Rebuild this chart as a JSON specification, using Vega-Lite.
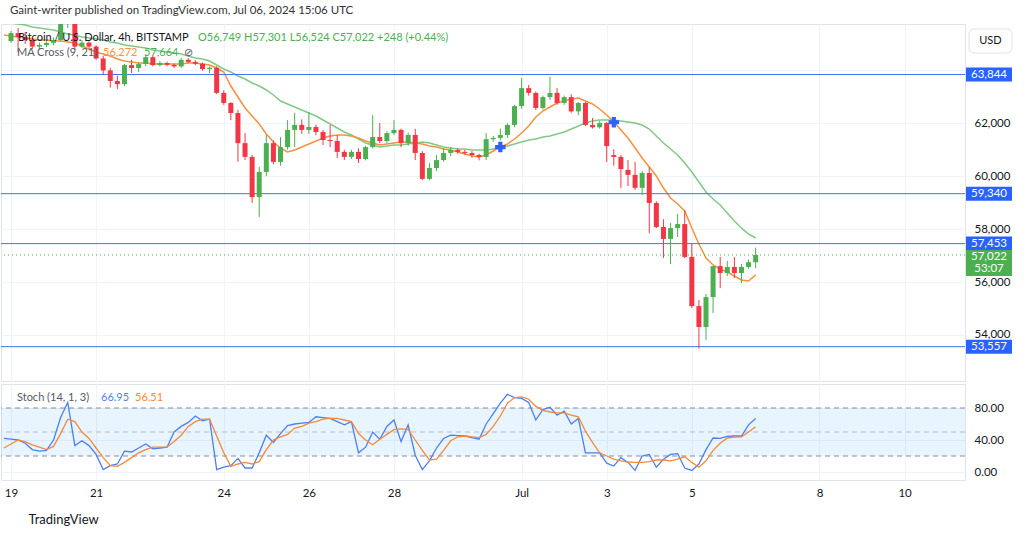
{
"$schema": "https://vega.github.io/schema/vega-lite/v6.json",
"padding": {"left": 0, "top": 5, "right": 0, "bottom": 0},
"background": "#ffffff",
"title": {"text": "Gaint-writer published on TradingView.com, Jul 06, 2024 15:06 UTC", "anchor": "start", "fontSize": 11.5, "fontWeight": "normal", "color": "#333333", "offset": 7, "dx": 10},
"spacing": 1,
"config": {
  "font": "Lato",
  "view": {"stroke": "#e0e3eb"},
  "scale": {"continuousPadding": 0},
  "axis": {"labelFontSize": 11.5, "labelColor": "#131722", "gridColor": "#f0f3fa", "domain": false, "ticks": false, "title": null}
},
"datasets": {
  "bars": [
{"t":"2024-06-18T20:00:00Z","o":null,"h":null,"l":null,"c":null,"m9":65338,"m21":65829,"k":42,"d":30},
{"t":"2024-06-19T00:00:00Z","o":65110,"h":65490,"l":65050,"c":65410,"m9":65300,"m21":65791,"k":41,"d":35},
{"t":"2024-06-19T04:00:00Z","o":65410,"h":65600,"l":64680,"c":65260,"m9":65262,"m21":65753,"k":40,"d":40},
{"t":"2024-06-19T08:00:00Z","o":65260,"h":65450,"l":65000,"c":65150,"m9":65224,"m21":65716,"k":36,"d":38},
{"t":"2024-06-19T12:00:00Z","o":65150,"h":65200,"l":64800,"c":64900,"m9":65186,"m21":65640,"k":28,"d":34},
{"t":"2024-06-19T16:00:00Z","o":64900,"h":65050,"l":64800,"c":64960,"m9":65149,"m21":65602,"k":26,"d":31},
{"t":"2024-06-19T20:00:00Z","o":64960,"h":65100,"l":64880,"c":65040,"m9":65149,"m21":65565,"k":27,"d":28},
{"t":"2024-06-20T00:00:00Z","o":65040,"h":65250,"l":64950,"c":65150,"m9":65111,"m21":65527,"k":40,"d":32},
{"t":"2024-06-20T04:00:00Z","o":65150,"h":66400,"l":65100,"c":65950,"m9":65111,"m21":65451,"k":68,"d":48},
{"t":"2024-06-20T08:00:00Z","o":65950,"h":66480,"l":65600,"c":66150,"m9":65073,"m21":65376,"k":87,"d":66},
{"t":"2024-06-20T12:00:00Z","o":66150,"h":66200,"l":64770,"c":64900,"m9":65035,"m21":65338,"k":33,"d":63},
{"t":"2024-06-20T16:00:00Z","o":64900,"h":65150,"l":64850,"c":65050,"m9":64922,"m21":65262,"k":39,"d":50},
{"t":"2024-06-20T20:00:00Z","o":65050,"h":65100,"l":64820,"c":64900,"m9":64809,"m21":65224,"k":33,"d":42},
{"t":"2024-06-21T00:00:00Z","o":64900,"h":64950,"l":64400,"c":64450,"m9":64695,"m21":65187,"k":22,"d":30},
{"t":"2024-06-21T04:00:00Z","o":64450,"h":64550,"l":63850,"c":64000,"m9":64620,"m21":65149,"k":3,"d":18},
{"t":"2024-06-21T08:00:00Z","o":64000,"h":64100,"l":63350,"c":63600,"m9":64544,"m21":65073,"k":8,"d":8},
{"t":"2024-06-21T12:00:00Z","o":63600,"h":63800,"l":63300,"c":63480,"m9":64431,"m21":65035,"k":10,"d":7},
{"t":"2024-06-21T16:00:00Z","o":63480,"h":64250,"l":63400,"c":64200,"m9":64355,"m21":64960,"k":26,"d":12},
{"t":"2024-06-21T20:00:00Z","o":64200,"h":64400,"l":63900,"c":64090,"m9":64317,"m21":64922,"k":25,"d":18},
{"t":"2024-06-22T00:00:00Z","o":64090,"h":64300,"l":63940,"c":64240,"m9":64279,"m21":64884,"k":30,"d":24},
{"t":"2024-06-22T04:00:00Z","o":64240,"h":64600,"l":64150,"c":64500,"m9":64279,"m21":64846,"k":35,"d":28},
{"t":"2024-06-22T08:00:00Z","o":64500,"h":64550,"l":64150,"c":64200,"m9":64242,"m21":64771,"k":29,"d":31},
{"t":"2024-06-22T12:00:00Z","o":64200,"h":64350,"l":64150,"c":64280,"m9":64242,"m21":64733,"k":30,"d":31},
{"t":"2024-06-22T16:00:00Z","o":64280,"h":64330,"l":64150,"c":64210,"m9":64242,"m21":64695,"k":31,"d":31},
{"t":"2024-06-22T20:00:00Z","o":64210,"h":64260,"l":64100,"c":64150,"m9":64242,"m21":64657,"k":50,"d":38},
{"t":"2024-06-23T00:00:00Z","o":64150,"h":64480,"l":64100,"c":64400,"m9":64242,"m21":64620,"k":57,"d":46},
{"t":"2024-06-23T04:00:00Z","o":64400,"h":64470,"l":64280,"c":64320,"m9":64279,"m21":64544,"k":62,"d":57},
{"t":"2024-06-23T08:00:00Z","o":64320,"h":64380,"l":64200,"c":64250,"m9":64279,"m21":64468,"k":70,"d":63},
{"t":"2024-06-23T12:00:00Z","o":64250,"h":64300,"l":63990,"c":64050,"m9":64242,"m21":64430,"k":64,"d":66},
{"t":"2024-06-23T16:00:00Z","o":64050,"h":64150,"l":63900,"c":64100,"m9":64204,"m21":64355,"k":66,"d":66},
{"t":"2024-06-23T20:00:00Z","o":64100,"h":64150,"l":63100,"c":63150,"m9":64090,"m21":64204,"k":3,"d":45},
{"t":"2024-06-24T00:00:00Z","o":63150,"h":63250,"l":62700,"c":62770,"m9":63939,"m21":64053,"k":6,"d":24},
{"t":"2024-06-24T04:00:00Z","o":62770,"h":62800,"l":62120,"c":62390,"m9":63410,"m21":63939,"k":8,"d":7},
{"t":"2024-06-24T08:00:00Z","o":62390,"h":62500,"l":60550,"c":61250,"m9":62994,"m21":63788,"k":17,"d":10},
{"t":"2024-06-24T12:00:00Z","o":61250,"h":61630,"l":60610,"c":60730,"m9":62578,"m21":63675,"k":5,"d":12},
{"t":"2024-06-24T16:00:00Z","o":60730,"h":60800,"l":58990,"c":59210,"m9":62276,"m21":63523,"k":5,"d":10},
{"t":"2024-06-24T20:00:00Z","o":59210,"h":60350,"l":58460,"c":60160,"m9":61974,"m21":63410,"k":24,"d":13},
{"t":"2024-06-25T00:00:00Z","o":60160,"h":61560,"l":60000,"c":61250,"m9":61596,"m21":63259,"k":46,"d":28},
{"t":"2024-06-25T04:00:00Z","o":61250,"h":61350,"l":60450,"c":60540,"m9":61293,"m21":63070,"k":37,"d":40},
{"t":"2024-06-25T08:00:00Z","o":60540,"h":61480,"l":60400,"c":61100,"m9":61066,"m21":62843,"k":48,"d":44},
{"t":"2024-06-25T12:00:00Z","o":61100,"h":62120,"l":61000,"c":61750,"m9":60915,"m21":62730,"k":58,"d":47},
{"t":"2024-06-25T16:00:00Z","o":61750,"h":62390,"l":61100,"c":61940,"m9":60991,"m21":62616,"k":60,"d":55},
{"t":"2024-06-25T20:00:00Z","o":61940,"h":62150,"l":61600,"c":61750,"m9":61104,"m21":62503,"k":61,"d":57},
{"t":"2024-06-26T00:00:00Z","o":61750,"h":62430,"l":61600,"c":61860,"m9":61218,"m21":62389,"k":62,"d":61},
{"t":"2024-06-26T04:00:00Z","o":61860,"h":61950,"l":61550,"c":61670,"m9":61331,"m21":62276,"k":69,"d":63},
{"t":"2024-06-26T08:00:00Z","o":61670,"h":61750,"l":61180,"c":61370,"m9":61444,"m21":62125,"k":68,"d":66},
{"t":"2024-06-26T12:00:00Z","o":61370,"h":61930,"l":61100,"c":61330,"m9":61520,"m21":61974,"k":67,"d":67},
{"t":"2024-06-26T16:00:00Z","o":61330,"h":61560,"l":60690,"c":60920,"m9":61558,"m21":61823,"k":63,"d":67},
{"t":"2024-06-26T20:00:00Z","o":60920,"h":61000,"l":60610,"c":60730,"m9":61558,"m21":61671,"k":59,"d":65},
{"t":"2024-06-27T00:00:00Z","o":60730,"h":61000,"l":60650,"c":60920,"m9":61520,"m21":61558,"k":63,"d":63},
{"t":"2024-06-27T04:00:00Z","o":60920,"h":61050,"l":60500,"c":60650,"m9":61444,"m21":61407,"k":24,"d":48},
{"t":"2024-06-27T08:00:00Z","o":60650,"h":61150,"l":60600,"c":61100,"m9":61331,"m21":61255,"k":31,"d":40},
{"t":"2024-06-27T12:00:00Z","o":61100,"h":62310,"l":61050,"c":61480,"m9":61255,"m21":61180,"k":50,"d":34},
{"t":"2024-06-27T16:00:00Z","o":61480,"h":62010,"l":61250,"c":61330,"m9":61180,"m21":61104,"k":41,"d":41},
{"t":"2024-06-27T20:00:00Z","o":61330,"h":61700,"l":61250,"c":61630,"m9":61218,"m21":61142,"k":57,"d":47},
{"t":"2024-06-28T00:00:00Z","o":61630,"h":62120,"l":61550,"c":61750,"m9":61255,"m21":61180,"k":65,"d":53},
{"t":"2024-06-28T04:00:00Z","o":61750,"h":61800,"l":61100,"c":61250,"m9":61293,"m21":61180,"k":38,"d":54},
{"t":"2024-06-28T08:00:00Z","o":61250,"h":61650,"l":61150,"c":61560,"m9":61293,"m21":61218,"k":59,"d":53},
{"t":"2024-06-28T12:00:00Z","o":61560,"h":61790,"l":60610,"c":60880,"m9":61255,"m21":61255,"k":21,"d":40},
{"t":"2024-06-28T16:00:00Z","o":60880,"h":60950,"l":59850,"c":59900,"m9":61218,"m21":61293,"k":3,"d":27},
{"t":"2024-06-28T20:00:00Z","o":59900,"h":60500,"l":59850,"c":60310,"m9":61142,"m21":61255,"k":14,"d":15},
{"t":"2024-06-29T00:00:00Z","o":60310,"h":60800,"l":60200,"c":60610,"m9":61104,"m21":61180,"k":30,"d":16},
{"t":"2024-06-29T04:00:00Z","o":60610,"h":61070,"l":60550,"c":60880,"m9":61029,"m21":61104,"k":42,"d":27},
{"t":"2024-06-29T08:00:00Z","o":60880,"h":61100,"l":60750,"c":60990,"m9":60991,"m21":61066,"k":46,"d":39},
{"t":"2024-06-29T12:00:00Z","o":60990,"h":61060,"l":60850,"c":60920,"m9":60915,"m21":61029,"k":45.5,"d":44},
{"t":"2024-06-29T16:00:00Z","o":60920,"h":61000,"l":60800,"c":60880,"m9":60840,"m21":61029,"k":45,"d":45},
{"t":"2024-06-29T20:00:00Z","o":60880,"h":60950,"l":60700,"c":60800,"m9":60764,"m21":60991,"k":43,"d":44},
{"t":"2024-06-30T00:00:00Z","o":60800,"h":60850,"l":60600,"c":60730,"m9":60726,"m21":60991,"k":41,"d":43},
{"t":"2024-06-30T04:00:00Z","o":60730,"h":61630,"l":60610,"c":61400,"m9":60802,"m21":60991,"k":60,"d":47},
{"t":"2024-06-30T08:00:00Z","o":61400,"h":61520,"l":61300,"c":61450,"m9":60953,"m21":61029,"k":73,"d":57},
{"t":"2024-06-30T12:00:00Z","o":61450,"h":61800,"l":61350,"c":61560,"m9":61104,"m21":61104,"k":86,"d":70},
{"t":"2024-06-30T16:00:00Z","o":61560,"h":62000,"l":61450,"c":61940,"m9":61218,"m21":61142,"k":97,"d":86},
{"t":"2024-06-30T20:00:00Z","o":61940,"h":62700,"l":61850,"c":62650,"m9":61407,"m21":61218,"k":93,"d":93},
{"t":"2024-07-01T00:00:00Z","o":62650,"h":63710,"l":62550,"c":63330,"m9":61633,"m21":61293,"k":92,"d":94},
{"t":"2024-07-01T04:00:00Z","o":63330,"h":63450,"l":63050,"c":63150,"m9":61898,"m21":61369,"k":87,"d":91},
{"t":"2024-07-01T08:00:00Z","o":63150,"h":63200,"l":62500,"c":62580,"m9":62238,"m21":61407,"k":65,"d":82},
{"t":"2024-07-01T12:00:00Z","o":62580,"h":63050,"l":62520,"c":62990,"m9":62465,"m21":61482,"k":78,"d":77},
{"t":"2024-07-01T16:00:00Z","o":62990,"h":63750,"l":62880,"c":63150,"m9":62616,"m21":61520,"k":81,"d":75},
{"t":"2024-07-01T20:00:00Z","o":63150,"h":63330,"l":62700,"c":62770,"m9":62767,"m21":61596,"k":71,"d":74},
{"t":"2024-07-02T00:00:00Z","o":62770,"h":63050,"l":62700,"c":62990,"m9":62843,"m21":61671,"k":76,"d":74},
{"t":"2024-07-02T04:00:00Z","o":62990,"h":63100,"l":62400,"c":62450,"m9":62919,"m21":61785,"k":60,"d":71},
{"t":"2024-07-02T08:00:00Z","o":62450,"h":62800,"l":62310,"c":62770,"m9":62956,"m21":61898,"k":67,"d":69},
{"t":"2024-07-02T12:00:00Z","o":62770,"h":62800,"l":61900,"c":61940,"m9":62843,"m21":62011,"k":24,"d":51},
{"t":"2024-07-02T16:00:00Z","o":61940,"h":62200,"l":61800,"c":61850,"m9":62730,"m21":62087,"k":24,"d":37},
{"t":"2024-07-02T20:00:00Z","o":61850,"h":62080,"l":61800,"c":62010,"m9":62541,"m21":62125,"k":24,"d":24},
{"t":"2024-07-03T00:00:00Z","o":62010,"h":62050,"l":60540,"c":61140,"m9":62314,"m21":62125,"k":11,"d":20},
{"t":"2024-07-03T04:00:00Z","o":60800,"h":61020,"l":60400,"c":60730,"m9":62049,"m21":62125,"k":7.5,"d":16},
{"t":"2024-07-03T08:00:00Z","o":60730,"h":60800,"l":59560,"c":60270,"m9":61747,"m21":62087,"k":18,"d":14},
{"t":"2024-07-03T12:00:00Z","o":60240,"h":60610,"l":59630,"c":60050,"m9":61444,"m21":62049,"k":12,"d":12.5},
{"t":"2024-07-03T16:00:00Z","o":60050,"h":60540,"l":59480,"c":59560,"m9":61066,"m21":62011,"k":2,"d":12},
{"t":"2024-07-03T20:00:00Z","o":59560,"h":60200,"l":59290,"c":60120,"m9":60688,"m21":61936,"k":20,"d":12},
{"t":"2024-07-04T00:00:00Z","o":60120,"h":60350,"l":57850,"c":58990,"m9":60348,"m21":61785,"k":22,"d":13},
{"t":"2024-07-04T04:00:00Z","o":58990,"h":59050,"l":58040,"c":58080,"m9":60008,"m21":61520,"k":6,"d":15},
{"t":"2024-07-04T08:00:00Z","o":58080,"h":58375,"l":56910,"c":57630,"m9":59554,"m21":61255,"k":16,"d":15},
{"t":"2024-07-04T12:00:00Z","o":57630,"h":58230,"l":56680,"c":58040,"m9":59176,"m21":61029,"k":22,"d":14},
{"t":"2024-07-04T16:00:00Z","o":58040,"h":58570,"l":57700,"c":58190,"m9":58950,"m21":60802,"k":23,"d":16},
{"t":"2024-07-04T20:00:00Z","o":58190,"h":58700,"l":56900,"c":56950,"m9":58685,"m21":60500,"k":5,"d":19},
{"t":"2024-07-05T00:00:00Z","o":56950,"h":57475,"l":55020,"c":55090,"m9":58042,"m21":60159,"k":2,"d":12},
{"t":"2024-07-05T04:00:00Z","o":55090,"h":55320,"l":53480,"c":54300,"m9":57437,"m21":59781,"k":10,"d":6},
{"t":"2024-07-05T08:00:00Z","o":54300,"h":55550,"l":53810,"c":55430,"m9":56908,"m21":59403,"k":28,"d":14},
{"t":"2024-07-05T12:00:00Z","o":55430,"h":56610,"l":54830,"c":56600,"m9":56644,"m21":59139,"k":42.5,"d":27},
{"t":"2024-07-05T16:00:00Z","o":56600,"h":56950,"l":55770,"c":56340,"m9":56493,"m21":58912,"k":42,"d":36},
{"t":"2024-07-05T20:00:00Z","o":56340,"h":56800,"l":56230,"c":56570,"m9":56379,"m21":58610,"k":44.6,"d":42.5},
{"t":"2024-07-06T00:00:00Z","o":56570,"h":56950,"l":56150,"c":56340,"m9":56228,"m21":58307,"k":45,"d":43.5},
{"t":"2024-07-06T04:00:00Z","o":56340,"h":56680,"l":55960,"c":56570,"m9":56077,"m21":58042,"k":45,"d":44},
{"t":"2024-07-06T08:00:00Z","o":56570,"h":56850,"l":56500,"c":56749,"m9":56039,"m21":57815,"k":59,"d":50},
{"t":"2024-07-06T12:00:00Z","o":56749,"h":57301,"l":56524,"c":57022,"m9":56272,"m21":57664,"k":66.95,"d":56.51}
  ],
  "levels": [
    {"p": 63844, "label": "63,844"},
    {"p": 59340, "label": "59,340"},
    {"p": 57453, "label": "57,453"},
    {"p": 53557, "label": "53,557"}
  ],
  "current": [{"p": 57022, "label": "57,022", "timer": "53:07"}],
  "crosses": [
    {"t": "2024-06-30T12:00:00Z", "p": 61100},
    {"t": "2024-07-03T04:00:00Z", "p": 62040}
  ]
},
"vconcat": [
  {
    "width": 964,
    "height": 357,
    "data": {"name": "bars"},
    "layer": [
      {
        "mark": {"type": "line", "color": "#6cbf6f", "strokeWidth": 1.5, "opacity": 0.85, "clip": true},
        "encoding": {
          "x": {"field": "t", "type": "temporal", "title": null,
                "scale": {"type": "utc", "domain": [1718734896000, 1720692288000], "padding": 0},
                "axis": {"values": [1718755200000, 1718928000000, 1719187200000, 1719360000000, 1719532800000, 1719792000000, 1719964800000, 1720137600000, 1720396800000, 1720569600000], "labels": false, "grid": true, "gridColor": "#f0f3fa", "ticks": false, "domain": false}},
          "y": {"field": "m21", "type": "quantitative", "title": null,
                "scale": {"domain": [52259, 65754], "nice": false, "zero": false, "padding": 0},
                "axis": {"orient": "right", "values": [54000, 56000, 58000, 60000, 62000, 64000], "labelExpr": "datum.value == 64000 ? '' : format(datum.value, ',')", "grid": true, "gridColor": "#f0f3fa", "ticks": false, "domain": false, "labelPadding": 9, "labelFontSize": 11.5, "labelColor": "#131722"}}
        }
      },
      {
        "mark": {"type": "line", "color": "#f7913d", "strokeWidth": 1.5, "clip": true},
        "encoding": {
          "x": {"field": "t", "type": "temporal", "title": null},
          "y": {"field": "m9", "type": "quantitative", "title": null}
        }
      },
      {
        "data": {"name": "levels"},
        "mark": {"type": "rule", "color": "#3a75f0", "strokeWidth": 1},
        "encoding": {"y": {"field": "p", "type": "quantitative", "title": null}}
      },
      {
        "data": {"name": "current"},
        "mark": {"type": "rule", "color": "#4caf50", "strokeWidth": 1, "strokeDash": [1, 3]},
        "encoding": {"y": {"field": "p", "type": "quantitative", "title": null}}
      },
      {
        "transform": [{"filter": "datum.o != null"}],
        "mark": {"type": "rule", "strokeWidth": 1, "clip": true},
        "encoding": {
          "x": {"field": "t", "type": "temporal", "title": null},
          "y": {"field": "l", "type": "quantitative", "title": null},
          "y2": {"field": "h"},
          "color": {"condition": {"test": "datum.c >= datum.o", "value": "#4caf50"}, "value": "#f23645"}
        }
      },
      {
        "transform": [{"filter": "datum.o != null"}],
        "mark": {"type": "bar", "size": 5, "clip": true},
        "encoding": {
          "x": {"field": "t", "type": "temporal", "title": null},
          "y": {"field": "o", "type": "quantitative", "title": null},
          "y2": {"field": "c"},
          "color": {"condition": {"test": "datum.c >= datum.o", "value": "#4caf50"}, "value": "#f23645"}
        }
      },
      {
        "data": {"name": "crosses"},
        "mark": {"type": "point", "shape": "cross", "filled": true, "size": 110, "color": "#2962ff", "opacity": 1},
        "encoding": {
          "x": {"field": "t", "type": "temporal", "title": null},
          "y": {"field": "p", "type": "quantitative", "title": null}
        }
      },
      {
        "data": {"name": "levels"},
        "mark": {"type": "bar", "orient": "horizontal", "size": 14, "color": "#2962ff", "clip": false},
        "encoding": {
          "x": {"datum": 1720694318000, "type": "temporal"},
          "x2": {"datum": 1720787720000},
          "y": {"field": "p", "type": "quantitative", "title": null}
        }
      },
      {
        "data": {"name": "levels"},
        "mark": {"type": "text", "color": "#ffffff", "fontSize": 11.5, "align": "center", "baseline": "middle", "clip": false},
        "encoding": {
          "x": {"datum": 1720741019000, "type": "temporal"},
          "y": {"field": "p", "type": "quantitative", "title": null},
          "text": {"field": "label"}
        }
      },
      {
        "data": {"name": "current"},
        "mark": {"type": "bar", "orient": "horizontal", "size": 26, "yOffset": 8, "color": "#4caf50", "clip": false},
        "encoding": {
          "x": {"datum": 1720694318000, "type": "temporal"},
          "x2": {"datum": 1720787720000},
          "y": {"field": "p", "type": "quantitative", "title": null}
        }
      },
      {
        "data": {"name": "current"},
        "mark": {"type": "text", "color": "#ffffff", "fontSize": 11.5, "align": "center", "baseline": "middle", "dy": 2, "clip": false},
        "encoding": {
          "x": {"datum": 1720741019000, "type": "temporal"},
          "y": {"field": "p", "type": "quantitative", "title": null},
          "text": {"field": "label"}
        }
      },
      {
        "data": {"name": "current"},
        "mark": {"type": "text", "color": "#ffffff", "fontSize": 11.5, "align": "center", "baseline": "middle", "dy": 14, "clip": false},
        "encoding": {
          "x": {"datum": 1720741019000, "type": "temporal"},
          "y": {"field": "p", "type": "quantitative", "title": null},
          "text": {"field": "timer"}
        }
      },
      {
        "data": {"values": [{"txt": "USD"}]},
        "mark": {"type": "rect", "fill": "#ffffff", "stroke": "#e0e3eb", "cornerRadius": 5, "clip": false},
        "encoding": {
          "x": {"datum": 1720700409000, "type": "temporal"},
          "x2": {"datum": 1720787720000},
          "y": {"datum": 65565, "type": "quantitative"},
          "y2": {"datum": 64657}
        }
      },
      {
        "data": {"values": [{"txt": "USD"}]},
        "mark": {"type": "text", "color": "#131722", "fontSize": 11, "align": "center", "baseline": "middle", "clip": false},
        "encoding": {
          "x": {"datum": 1720744065000, "type": "temporal"},
          "y": {"datum": 65111, "type": "quantitative"},
          "text": {"field": "txt"}
        }
      },
      {
        "data": {"values": [{"txt": "Bitcoin / U.S. Dollar, 4h, BITSTAMP"}]},
        "mark": {"type": "text", "color": "#131722", "fontSize": 11, "align": "left", "baseline": "middle", "dx": 17},
        "encoding": {
          "x": {"datum": 1718734896000, "type": "temporal"},
          "y": {"datum": 65224, "type": "quantitative"},
          "text": {"field": "txt"}
        }
      },
      {
        "data": {"values": [{"txt": "O56,749 H57,301 L56,524 C57,022 +248 (+0.44%)"}]},
        "mark": {"type": "text", "color": "#4caf50", "fontSize": 11, "align": "left", "baseline": "middle", "dx": 197},
        "encoding": {
          "x": {"datum": 1718734896000, "type": "temporal"},
          "y": {"datum": 65224, "type": "quantitative"},
          "text": {"field": "txt"}
        }
      },
      {
        "data": {"values": [{"txt": "MA Cross (9, 21)"}]},
        "mark": {"type": "text", "color": "#555a66", "fontSize": 11, "align": "left", "baseline": "middle", "dx": 16},
        "encoding": {
          "x": {"datum": 1718734896000, "type": "temporal"},
          "y": {"datum": 64657, "type": "quantitative"},
          "text": {"field": "txt"}
        }
      },
      {
        "data": {"values": [{"txt": "56,272"}]},
        "mark": {"type": "text", "color": "#f7913d", "fontSize": 11, "align": "left", "baseline": "middle", "dx": 102},
        "encoding": {
          "x": {"datum": 1718734896000, "type": "temporal"},
          "y": {"datum": 64657, "type": "quantitative"},
          "text": {"field": "txt"}
        }
      },
      {
        "data": {"values": [{"txt": "57,664"}]},
        "mark": {"type": "text", "color": "#4caf50", "fontSize": 11, "align": "left", "baseline": "middle", "dx": 143},
        "encoding": {
          "x": {"datum": 1718734896000, "type": "temporal"},
          "y": {"datum": 64657, "type": "quantitative"},
          "text": {"field": "txt"}
        }
      },
      {
        "data": {"values": [{"txt": "⊘"}]},
        "mark": {"type": "text", "color": "#555a66", "fontSize": 11, "align": "left", "baseline": "middle", "dx": 183},
        "encoding": {
          "x": {"datum": 1718734896000, "type": "temporal"},
          "y": {"datum": 64657, "type": "quantitative"},
          "text": {"field": "txt"}
        }
      }
    ]
  },
  {
    "width": 964,
    "height": 96,
    "data": {"name": "bars"},
    "title": {"text": "TradingView", "orient": "bottom", "anchor": "start", "fontSize": 13, "fontWeight": "normal", "color": "#131722", "offset": 15, "dx": 28},
    "layer": [
      {
        "data": {"values": [{"lo": 20, "hi": 80}]},
        "mark": {"type": "rect", "color": "#2196f3", "opacity": 0.1},
        "encoding": {
          "y": {"field": "lo", "type": "quantitative", "title": null,
                "scale": {"domain": [-10, 110], "nice": false, "zero": false, "padding": 0},
                "axis": {"orient": "right", "values": [0, 40, 80], "format": ".2f", "grid": true, "gridColor": "#f0f3fa", "ticks": false, "domain": false, "labelPadding": 9, "labelFontSize": 11.5, "labelColor": "#131722"}},
          "y2": {"field": "hi"}
        }
      },
      {
        "data": {"values": [{"v": 80}, {"v": 20}]},
        "mark": {"type": "rule", "color": "#8a8d96", "strokeDash": [5, 4], "strokeWidth": 1},
        "encoding": {"y": {"field": "v", "type": "quantitative", "title": null}}
      },
      {
        "data": {"values": [{"v": 50}]},
        "mark": {"type": "rule", "color": "#b8bbc3", "strokeDash": [5, 4], "strokeWidth": 1},
        "encoding": {"y": {"field": "v", "type": "quantitative", "title": null}}
      },
      {
        "mark": {"type": "line", "color": "#4d7ff2", "strokeWidth": 1.3, "clip": true},
        "encoding": {
          "x": {"field": "t", "type": "temporal", "title": null,
                "scale": {"type": "utc", "domain": [1718734896000, 1720692288000], "padding": 0},
                "axis": {"values": [1718755200000, 1718928000000, 1719187200000, 1719360000000, 1719532800000, 1719792000000, 1719964800000, 1720137600000, 1720396800000, 1720569600000], "labelExpr": "utcdate(datum.value) == 1 ? utcFormat(datum.value, '%b') : utcFormat(datum.value, '%-d')", "grid": true, "gridColor": "#f0f3fa", "ticks": false, "domain": false, "labelPadding": 7, "labelFontSize": 11.5, "labelColor": "#131722"}},
          "y": {"field": "k", "type": "quantitative", "title": null}
        }
      },
      {
        "mark": {"type": "line", "color": "#f5893a", "strokeWidth": 1.3, "clip": true},
        "encoding": {
          "x": {"field": "t", "type": "temporal", "title": null},
          "y": {"field": "d", "type": "quantitative", "title": null}
        }
      },
      {
        "data": {"values": [{"txt": "Stoch (14, 1, 3)"}]},
        "mark": {"type": "text", "color": "#555a66", "fontSize": 11, "align": "left", "baseline": "middle", "dx": 16},
        "encoding": {
          "x": {"datum": 1718734896000, "type": "temporal"},
          "y": {"datum": 92.5, "type": "quantitative"},
          "text": {"field": "txt"}
        }
      },
      {
        "data": {"values": [{"txt": "66.95"}]},
        "mark": {"type": "text", "color": "#4d7ff2", "fontSize": 11, "align": "left", "baseline": "middle", "dx": 100},
        "encoding": {
          "x": {"datum": 1718734896000, "type": "temporal"},
          "y": {"datum": 92.5, "type": "quantitative"},
          "text": {"field": "txt"}
        }
      },
      {
        "data": {"values": [{"txt": "56.51"}]},
        "mark": {"type": "text", "color": "#f5893a", "fontSize": 11, "align": "left", "baseline": "middle", "dx": 134},
        "encoding": {
          "x": {"datum": 1718734896000, "type": "temporal"},
          "y": {"datum": 92.5, "type": "quantitative"},
          "text": {"field": "txt"}
        }
      }
    ]
  }
]
}
